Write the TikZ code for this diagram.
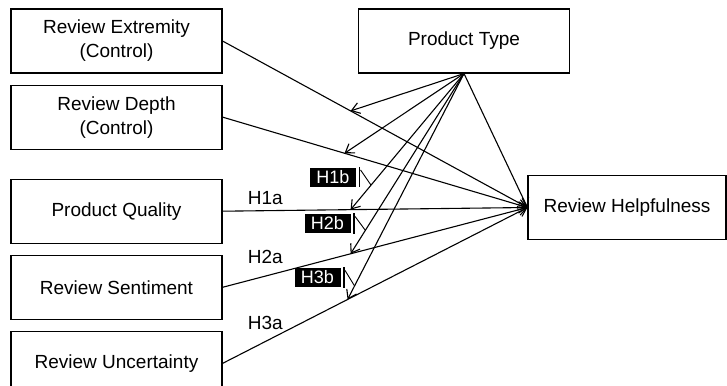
\documentclass[tikz,border=0pt]{standalone}
\usepackage{fontspec}
\setmainfont{Liberation Sans}
\usetikzlibrary{arrows.meta,positioning}

\begin{document}
\begin{tikzpicture}[
	x = 1pt, y = -1pt, % pixel grid, y downwards
	> = {Straight Barb[length=8pt, width=11pt]}, % arrow head style
	line width = 1.1pt, % line style
	node distance = 11pt, % gap between stacked boxes
	V/.style={rectangle, draw=black, minimum width=211pt, minimum height=64pt, align=center, font=\fontsize{19}{24}\selectfont},
	H/.style={rectangle, fill=black, text=white, inner sep=0pt, minimum width=46pt, minimum height=19pt, font=\fontsize{18}{18}\selectfont},
	lbl/.style={inner sep=0pt, font=\fontsize{19}{20}\selectfont},
	]
	\useasboundingbox (0,0) rectangle (727,385);

	% Nodes and their relative positions
	\node[V] (RE) at (116.5,41) {Review Extremity\\(Control)};
	\node[V] (RD) [below = of RE] {Review Depth\\(Control)};
	\node[V] (PQ) [below = 29pt of RD] {Product Quality};
	\node[V] (RS) [below = of PQ] {Review Sentiment};
	\node[V] (RU) [below = of RS] {Review Uncertainty};
	\node[V] (PT) at (464,41) {Product Type};
	\node[V, minimum width=198pt] (RH) at (627,207.5) {Review Helpfulness};

	% Direct effects
	\draw[->] (RE.east) -- coordinate[pos=.42] (mE) (RH.west);
	\draw[->] (RD.east) -- coordinate[pos=.40] (mD) (RH.west);
	\draw[->] (PQ.east) -- coordinate[pos=.42] (mQ) node[lbl, pos=.14, above=5pt] {H1a} (RH.west);
	\draw[->] (RS.east) -- coordinate[pos=.42] (mS) node[lbl, pos=.14, above=12pt] {H2a} (RH.west);
	\draw[->] (RU.east) -- coordinate[pos=.41] (mU) node[lbl, pos=.14, above=11pt] {H3a} (RH.west);

	% Moderating paths from product type
	\draw[->] (PT.south) -- (RH.west);
	\draw[->] (PT.south) -- (mE);
	\draw[->] (PT.south) -- (mD);
	\draw[->] (PT.south) -- coordinate[pos=.82] (cQ) (mQ);
	\draw[->] (PT.south) -- coordinate[pos=.87] (cS) (mS);
	\draw[->] (PT.south) -- coordinate[pos=.94] (cU) (mU);

	% Moderation labels
	\node[H] (H1b) at (333,177) {H1b};
	\node[H] (H2b) at (327.5,223.5) {H2b};
	\node[H] (H3b) at (317.5,277.5) {H3b};
	\foreach \h/\c in {H1b/cQ, H2b/cS, H3b/cU} {
		\draw[line width=1.8pt] ([xshift=3pt]\h.north east) -- ([xshift=3pt]\h.south east);
		\draw[line width=0.9pt] ([xshift=4pt,yshift=-3pt]\h.north east) -- (\c);
	}

\end{tikzpicture}
\end{document}
